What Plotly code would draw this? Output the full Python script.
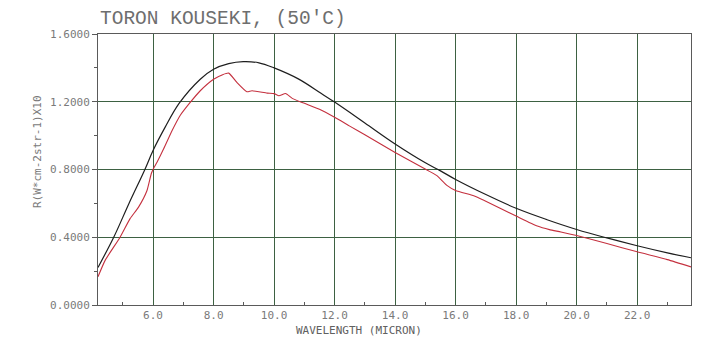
import plotly.graph_objects as go

# Black curve (reference blackbody, 50 C)
black_x = [4.18, 4.70, 5.20, 5.73, 6.00, 6.40, 6.86, 7.56, 8.00, 8.50, 8.98, 9.50, 10.00,
           10.80, 11.55, 12.00, 13.00, 14.00, 15.00, 15.50, 16.00, 17.00, 18.00, 19.00,
           20.00, 21.00, 22.00, 23.00, 23.78]
black_y = [0.222, 0.400, 0.598, 0.800, 0.912, 1.050, 1.190, 1.333, 1.392, 1.425, 1.437, 1.430, 1.400,
           1.335, 1.250, 1.198, 1.075, 0.951, 0.840, 0.792, 0.741, 0.652, 0.571, 0.505,
           0.446, 0.396, 0.350, 0.308, 0.279]

# Red curve (measured)
red_x = [4.18, 4.42, 4.91, 5.24, 5.52, 5.80, 5.94, 6.00, 6.13, 6.35, 6.63, 6.90, 7.20, 7.56,
         8.00, 8.30, 8.50, 8.77, 9.10, 9.27, 9.77, 10.00, 10.16, 10.38, 10.60, 10.98, 11.55,
         12.00, 12.50, 13.00, 14.00, 15.04, 15.37, 15.70, 16.00, 16.60, 16.93, 18.00, 18.70,
         19.10, 19.48, 20.00, 21.00, 22.00, 23.00, 23.78]
red_y = [0.167, 0.265, 0.400, 0.510, 0.578, 0.676, 0.775, 0.800, 0.843, 0.922, 1.030, 1.120, 1.190, 1.265,
         1.333, 1.360, 1.369, 1.314, 1.259, 1.265, 1.251, 1.248, 1.235, 1.249, 1.220, 1.192, 1.151,
         1.108, 1.056, 1.005, 0.900, 0.798, 0.765, 0.708, 0.676, 0.645, 0.618, 0.525, 0.466,
         0.445, 0.431, 0.410, 0.363, 0.314, 0.268, 0.225]

x_ticks = [6, 8, 10, 12, 14, 16, 18, 20, 22]
x_labels = ["6.0", "8.0", "10.0", "12.0", "14.0", "16.0", "18.0", "20.0", "22.0"]
y_ticks = [0.0, 0.4, 0.8, 1.2, 1.6]
y_labels = ["0.0000", "0.4000", "0.8000", "1.2000", "1.6000"]
x_minor = [5, 7, 9, 11, 13, 15, 17, 19, 21, 23]
y_minor = [0.2, 0.6, 1.0, 1.4]

title_text = "TORON KOUSEKI, (50'C)"
x_title = "WAVELENGTH (MICRON)"
y_title = "R(W*cm-2str-1)X10"

FONT = "DejaVu Sans Mono"
TFONT = "Liberation Mono"
GRID = "#3d6142"
FRAME = "#5a5a5a"
TXT = "#7a7a7a"

fig = go.Figure()
fig.add_trace(go.Scatter(x=black_x, y=black_y, mode="lines",
                         line=dict(color="#1e1e1e", width=1.2, shape="spline", smoothing=1.0),
                         showlegend=False, hoverinfo="skip"))
fig.add_trace(go.Scatter(x=red_x, y=red_y, mode="lines",
                         line=dict(color="#c4303e", width=1.1, shape="spline", smoothing=0.5),
                         showlegend=False, hoverinfo="skip"))

fig.update_layout(
    width=720, height=341,
    margin=dict(l=98, r=29, t=34, b=36),
    paper_bgcolor="white", plot_bgcolor="white",
    font=dict(family=FONT, color=TXT, size=11),
    showlegend=False,
    xaxis=dict(range=[4.18, 23.78], tickmode="array", tickvals=x_ticks, ticktext=x_labels,
               showgrid=True, gridcolor=GRID, gridwidth=1,
               showline=True, linecolor=FRAME, linewidth=1, mirror=True,
               ticks="", zeroline=False,
               tickfont=dict(family=FONT, size=11, color=TXT),
               minor=dict(tickmode="array", tickvals=x_minor,
                          ticks="inside", ticklen=3, tickcolor=FRAME, showgrid=False)),
    yaxis=dict(range=[0, 1.6], tickmode="array", tickvals=y_ticks, ticktext=y_labels,
               showgrid=True, gridcolor=GRID, gridwidth=1,
               showline=True, linecolor=FRAME, linewidth=1, mirror=True,
               ticks="outside", ticklen=5, tickcolor=FRAME, zeroline=False,
               tickfont=dict(family=FONT, size=11, color=TXT),
               minor=dict(tickmode="array", tickvals=y_minor,
                          ticks="outside", ticklen=3, tickcolor=FRAME, showgrid=False)),
)

fig.add_annotation(text=title_text, xref="paper", yref="paper", x=0, y=1,
                   xanchor="left", yanchor="bottom", yshift=2, showarrow=False,
                   font=dict(family=TFONT, size=19.5, color="#6e6e6e"))
fig.add_annotation(text=x_title, xref="paper", yref="paper", x=(294 - 98) / 593, y=0,
                   xanchor="left", yanchor="top", yshift=-17, showarrow=False,
                   font=dict(family=FONT, size=11, color="#606060"))
fig.add_annotation(text=y_title, xref="paper", yref="paper", x=0, y=(305 - 152) / 271,
                   xanchor="center", yanchor="middle", xshift=-61, textangle=-90, showarrow=False,
                   font=dict(family=FONT, size=11, color=TXT))

fig.write_html("out.html")
